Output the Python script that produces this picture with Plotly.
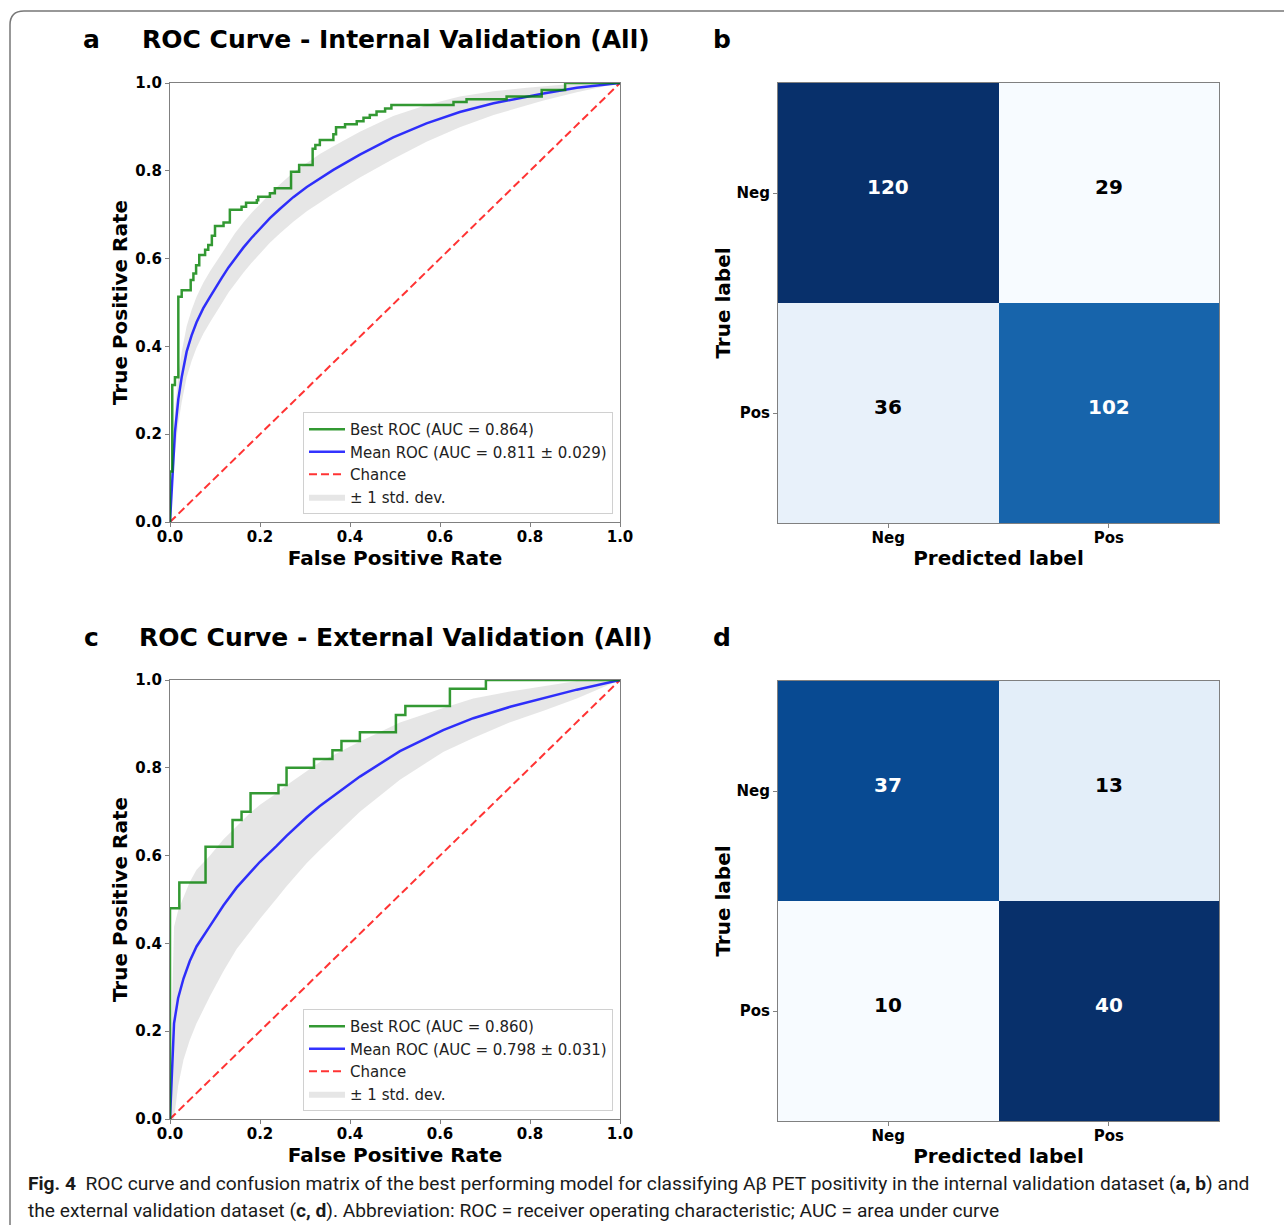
import numpy as np
import plotly.graph_objects as go

# ---------------- data ----------------
# Internal validation: best ROC staircase (fpr at jump, tpr after jump)
int_best_fpr = [0, 0, 0.005, 0.011, 0.0185, 0.026, 0.046, 0.052, 0.058, 0.065, 0.078, 0.085, 0.093,
                0.100, 0.119, 0.133, 0.159, 0.169, 0.193, 0.196, 0.222, 0.233, 0.269, 0.287, 0.317,
                0.323, 0.333, 0.363, 0.369, 0.389, 0.415, 0.430, 0.444, 0.459, 0.478, 0.492, 0.630,
                0.659, 0.748, 0.826, 0.878, 1.0]
int_best_tpr = [0, 0.115, 0.312, 0.330, 0.513, 0.528, 0.551, 0.566, 0.585, 0.608, 0.620, 0.631, 0.652,
                0.674, 0.682, 0.711, 0.718, 0.727, 0.733, 0.741, 0.749, 0.760, 0.798, 0.813, 0.850,
                0.859, 0.870, 0.883, 0.899, 0.906, 0.913, 0.921, 0.927, 0.935, 0.942, 0.950, 0.957,
                0.963, 0.969, 0.984, 1.0, 1.0]
int_mean_fpr = [0, 0.006, 0.011, 0.0185, 0.026, 0.037, 0.048, 0.059, 0.074, 0.089, 0.100, 0.115, 0.130,
                0.144, 0.163, 0.181, 0.200, 0.222, 0.244, 0.274, 0.304, 0.333, 0.363, 0.422, 0.496,
                0.570, 0.644, 0.719, 0.793, 0.830, 0.904, 1.0]
int_mean_tpr = [0, 0.120, 0.205, 0.280, 0.330, 0.388, 0.425, 0.455, 0.487, 0.513, 0.530, 0.556, 0.580,
                0.600, 0.625, 0.647, 0.668, 0.692, 0.713, 0.740, 0.763, 0.783, 0.802, 0.837, 0.876,
                0.908, 0.934, 0.954, 0.969, 0.976, 0.989, 1.0]
int_std_tpr = [0, 0.040, 0.050, 0.055, 0.057, 0.058, 0.058, 0.058, 0.058, 0.058, 0.058, 0.058, 0.057,
               0.057, 0.057, 0.057, 0.056, 0.056, 0.056, 0.056, 0.055, 0.055, 0.054, 0.052, 0.049,
               0.042, 0.035, 0.027, 0.020, 0.016, 0.010, 0]

# External validation
ext_best_fpr = [0, 0, 0.0207, 0.079, 0.139, 0.159, 0.179, 0.241, 0.259, 0.320, 0.361, 0.381, 0.422,
                0.502, 0.523, 0.622, 0.702, 1.0]
ext_best_tpr = [0, 0.480, 0.539, 0.620, 0.681, 0.700, 0.742, 0.761, 0.800, 0.820, 0.840, 0.861, 0.881,
                0.920, 0.941, 0.980, 1.0, 1.0]
ext_mean_fpr = [0, 0.004, 0.009, 0.018, 0.030, 0.044, 0.059, 0.089, 0.119, 0.148, 0.178, 0.200, 0.237,
                0.259, 0.304, 0.333, 0.422, 0.511, 0.607, 0.674, 0.756, 0.830, 0.904, 1.0]
ext_mean_tpr = [0, 0.110, 0.218, 0.275, 0.320, 0.360, 0.393, 0.440, 0.487, 0.527, 0.562, 0.586, 0.622,
                0.645, 0.688, 0.713, 0.780, 0.838, 0.886, 0.913, 0.939, 0.958, 0.978, 1.0]
ext_std_tpr = [0, 0.13, 0.22, 0.20, 0.185, 0.18, 0.175, 0.16, 0.15, 0.14, 0.135, 0.13, 0.12,
               0.115, 0.105, 0.10, 0.08, 0.065, 0.05, 0.045, 0.035, 0.028, 0.02, 0]

int_best_auc, int_mean_auc, int_std_auc = 0.864, 0.811, 0.029
ext_best_auc, ext_mean_auc, ext_std_auc = 0.860, 0.798, 0.031

cm_labels = ["Neg", "Pos"]
cm_internal = [[120, 29], [36, 102]]
cm_external = [[37, 13], [10, 40]]

BLUES = ["#f7fbff", "#deebf7", "#c6dbef", "#9ecae1", "#6baed6",
         "#4292c6", "#2171b5", "#08519c", "#08306b"]

W, H = 1284, 1225
FONT = "DejaVu Sans"


def px(x):
    return x / W


def py(y):
    return 1 - y / H


fig = go.Figure()


def add_roc(suffix, legend_name, best_fpr, best_tpr, mean_fpr, mean_tpr, std_tpr,
            best_auc, mean_auc, std_auc):
    mt = np.array(mean_tpr)
    sd = np.array(std_tpr)
    upper = np.minimum(mt + sd, 1)
    lower = np.maximum(mt - sd, 0)
    xa, ya = "x" + suffix, "y" + suffix
    fig.add_trace(go.Scatter(x=mean_fpr, y=lower, mode="lines", line=dict(width=0),
                             showlegend=False, hoverinfo="skip", xaxis=xa, yaxis=ya,
                             legend=legend_name))
    fig.add_trace(go.Scatter(x=mean_fpr, y=upper, mode="lines", line=dict(width=0),
                             fill="tonexty", fillcolor="rgba(128,128,128,0.2)",
                             name="± 1 std. dev.", legendrank=4, xaxis=xa, yaxis=ya,
                             legend=legend_name))
    fig.add_trace(go.Scatter(x=[0, 1], y=[0, 1], mode="lines",
                             line=dict(color="rgba(255,0,0,0.8)", width=2, dash="8px,4px"),
                             name="Chance", legendrank=3, xaxis=xa, yaxis=ya,
                             legend=legend_name))
    fig.add_trace(go.Scatter(x=mean_fpr, y=mean_tpr, mode="lines",
                             line=dict(color="rgba(0,0,255,0.8)", width=2.5),
                             name=f"Mean ROC (AUC = {mean_auc:.3f} ± {std_auc:.3f})",
                             legendrank=2, xaxis=xa, yaxis=ya, legend=legend_name))
    fig.add_trace(go.Scatter(x=best_fpr, y=best_tpr, mode="lines", line_shape="hv",
                             line=dict(color="rgba(0,128,0,0.8)", width=2.5),
                             name=f"Best ROC (AUC = {best_auc:.3f})",
                             legendrank=1, xaxis=xa, yaxis=ya, legend=legend_name))


add_roc("", "legend", int_best_fpr, int_best_tpr, int_mean_fpr, int_mean_tpr, int_std_tpr,
        int_best_auc, int_mean_auc, int_std_auc)
add_roc("3", "legend2", ext_best_fpr, ext_best_tpr, ext_mean_fpr, ext_mean_tpr, ext_std_tpr,
        ext_best_auc, ext_mean_auc, ext_std_auc)

colorscale = [[i / 8, c] for i, c in enumerate(BLUES)]
annotations = []
for suffix, cm in (("2", cm_internal), ("4", cm_external)):
    fig.add_trace(go.Heatmap(z=cm, x=cm_labels, y=cm_labels, colorscale=colorscale,
                             showscale=False, xaxis="x" + suffix, yaxis="y" + suffix,
                             hoverinfo="skip"))
    thresh = max(max(r) for r in cm) / 2
    for i, row in enumerate(cm):
        for j, v in enumerate(row):
            annotations.append(dict(x=cm_labels[j], y=cm_labels[i], xref="x" + suffix,
                                    yref="y" + suffix, text=f"<b>{v}</b>", showarrow=False,
                                    yshift=6,
                                    font=dict(size=20, color="white" if v > thresh else "black",
                                              family=FONT)))

spine = "#808080"
tickfont = dict(size=15, family=FONT, color="black", weight="bold")
titlefont = dict(size=20, family=FONT, color="black", weight="bold")


def roc_axes(xdom, ydom, anchor_x, anchor_y):
    xa = dict(domain=xdom, range=[0, 1], anchor=anchor_y, dtick=0.2, tick0=0, tickformat=".1f",
              ticks="outside", ticklen=4, tickcolor=spine, showline=True, linecolor=spine,
              linewidth=1.2, mirror=True, showgrid=False, zeroline=False, tickfont=tickfont,
              ticklabelstandoff=-3,
              title=dict(text="False Positive Rate", font=titlefont, standoff=1),
              automargin=False)
    ya = dict(domain=ydom, range=[0, 1], anchor=anchor_x, dtick=0.2, tick0=0, tickformat=".1f",
              ticks="outside", ticklen=4, tickcolor=spine, showline=True, linecolor=spine,
              linewidth=1.2, mirror=True, showgrid=False, zeroline=False, tickfont=tickfont,
              title=dict(text="True Positive Rate", font=titlefont, standoff=2),
              automargin=False)
    return xa, ya


def cm_axes(xdom, ydom, anchor_x, anchor_y):
    xa = dict(domain=xdom, anchor=anchor_y, type="category", categoryorder="array",
              categoryarray=cm_labels, ticks="outside", ticklen=4, tickcolor=spine,
              showline=True, linecolor=spine, linewidth=1.2, mirror=True, showgrid=False,
              zeroline=False, tickfont=tickfont, ticklabelstandoff=-3,
              title=dict(text="Predicted label", font=titlefont, standoff=4),
              automargin=False)
    ya = dict(domain=ydom, anchor=anchor_x, type="category", categoryorder="array",
              categoryarray=cm_labels, autorange="reversed", ticks="outside", ticklen=4,
              tickcolor=spine, showline=True, linecolor=spine, linewidth=1.2, mirror=True,
              showgrid=False, zeroline=False, tickfont=tickfont,
              title=dict(text="True label", font=titlefont, standoff=0),
              automargin=False)
    return xa, ya


xa1, ya1 = roc_axes([px(170), px(620)], [py(522), py(83)], "x", "y")
xa2, ya2 = cm_axes([px(778), px(1219)], [py(523), py(83)], "x2", "y2")
xa3, ya3 = roc_axes([px(170), px(620)], [py(1119), py(680)], "x3", "y3")
xa4, ya4 = cm_axes([px(778), px(1219)], [py(1121), py(681)], "x4", "y4")

# panel letters and titles
big = dict(size=25, family=FONT, color="black", weight="bold")
for letter, x, y in (("a", 92, 40), ("b", 722, 40), ("c", 92, 637), ("d", 722, 637)):
    annotations.append(dict(x=px(x), y=py(y), xref="paper", yref="paper", text=letter,
                            showarrow=False, xanchor="center", yanchor="middle", font=big))
for title, x, y in (("ROC Curve - Internal Validation (All)", 396, 40),
                    ("ROC Curve - External Validation (All)", 396, 637)):
    annotations.append(dict(x=px(x), y=py(y), xref="paper", yref="paper", text=title,
                            showarrow=False, xanchor="center", yanchor="middle", font=big))

# caption
capfont = dict(size=19.2, family="Liberation Sans Narrow, Roboto, sans-serif", color="#1a1a1a")
annotations.append(dict(x=px(26), y=py(1183), xref="paper", yref="paper", xanchor="left",
                        yanchor="middle", showarrow=False, font=capfont,
                        text="<b>Fig. 4</b>  ROC curve and confusion matrix of the best performing "
                             "model for classifying Aβ PET positivity in the internal validation "
                             "dataset (<b>a, b</b>) and"))
annotations.append(dict(x=px(26), y=py(1210), xref="paper", yref="paper", xanchor="left",
                        yanchor="middle", showarrow=False, font=capfont,
                        text="the external validation dataset (<b>c, d</b>). Abbreviation: "
                             "ROC = receiver operating characteristic; AUC = area under curve"))

# page frame with rounded top-left corner
x0, yt, r = px(10), py(11), 14
frame = (f"M {x0},{py(H + 5)} L {x0},{py(11 + r)} Q {x0},{yt} {px(10 + r)},{yt} "
         f"L {px(W + 5)},{yt}")

legend_common = dict(bgcolor="rgba(255,255,255,0.85)", bordercolor="#d0d0d0", borderwidth=1,
                     font=dict(size=15, family=FONT, color="#222"), xanchor="right",
                     yanchor="bottom", traceorder="normal", itemwidth=36)

fig.update_layout(
    width=W, height=H, margin=dict(l=0, r=0, t=0, b=0),
    paper_bgcolor="white", plot_bgcolor="white", template="none",
    font=dict(family=FONT, color="black"),
    xaxis=xa1, yaxis=ya1, xaxis2=xa2, yaxis2=ya2, xaxis3=xa3, yaxis3=ya3,
    xaxis4=xa4, yaxis4=ya4,
    legend=dict(x=px(613), y=py(514), **legend_common),
    legend2=dict(x=px(613), y=py(1111), **legend_common),
    annotations=annotations,
    shapes=[dict(type="path", path=frame, xref="paper", yref="paper",
                 line=dict(color="#777", width=1.5))],
)

fig.write_html("out.html", config={"displayModeBar": False},
               post_script="document.body.style.margin='0';")
